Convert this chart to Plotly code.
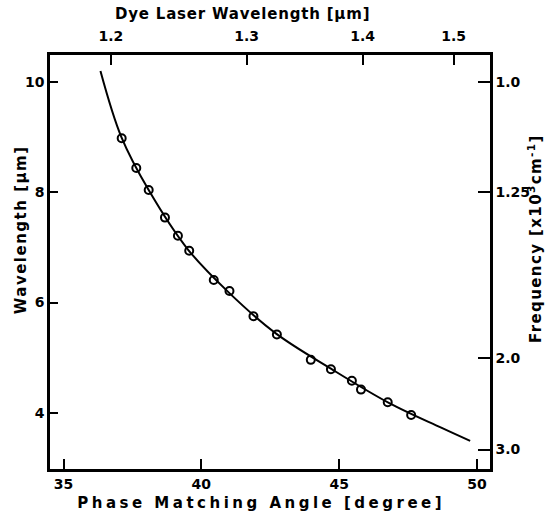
import plotly.graph_objects as go

# Measured points: phase matching angle (deg) vs generated wavelength (um)
angle_deg = [37.11, 37.64, 38.09, 38.68, 39.15, 39.56, 40.45, 41.02, 41.89,
             42.74, 43.97, 44.70, 45.46, 45.79, 46.76, 47.61]
wavelength_um = [8.98, 8.44, 8.04, 7.54, 7.21, 6.94, 6.41, 6.21, 5.75,
                 5.42, 4.96, 4.79, 4.58, 4.42, 4.19, 3.96]

# Calculated tuning curve
curve_angle = [36.34, 37.10, 38.10, 39.50, 41.00, 42.70, 44.70, 46.80, 48.70, 49.75]
curve_wavelength = [10.20, 9.00, 8.03, 6.97, 6.18, 5.44, 4.80, 4.18, 3.73, 3.49]

# Bottom axis ticks
angle_ticks = [35, 40, 45, 50]
# Left axis ticks
wl_ticks = [4, 6, 8, 10]
# Top axis: dye laser wavelength labels and the angle where each occurs
dye_labels = ["1.2", "1.3", "1.4", "1.5"]
dye_angle = [36.72, 41.64, 45.85, 49.15]
# Right axis: frequency (x10^3 cm^-1)
freq_values = [1.0, 1.25, 2.0, 3.0]
freq_labels = ["1.0", "1.25", "2.0", "3.0"]
freq_pos_um = [10.0 / f for f in freq_values]

X_RANGE = [34.51, 50.47]
Y_RANGE = [2.98, 10.49]

FONT = "DejaVu Sans"
tickfont = dict(family=FONT, size=14, color="black", weight="bold")
titlefont = dict(family=FONT, size=15, color="black", weight="bold")

fig = go.Figure()
fig.add_trace(go.Scatter(
    x=curve_angle, y=curve_wavelength, mode="lines",
    line=dict(color="black", width=2, shape="spline", smoothing=1.0),
    showlegend=False, hoverinfo="skip"))
fig.add_trace(go.Scatter(
    x=angle_deg, y=wavelength_um, mode="markers",
    marker=dict(symbol="circle-open", size=8, color="black", line=dict(width=2)),
    showlegend=False))
# invisible trace to anchor secondary axes
fig.add_trace(go.Scatter(x=[X_RANGE[0]], y=[Y_RANGE[0]], xaxis="x2", yaxis="y2",
                         mode="markers", marker=dict(opacity=0), showlegend=False,
                         hoverinfo="skip"))

common = dict(showgrid=False, zeroline=False, showline=True, linecolor="black",
              linewidth=2.5, ticks="inside", tickcolor="black", tickwidth=1.5,
              tickfont=tickfont)

W, H = 547, 516
l, r, t, b = 50, 57, 55, 47
pw, ph = W - l - r, H - t - b


def px2paper(px, py):
    return (px - l) / pw, (H - b - py) / ph


titles = [
    ("Dye Laser Wavelength [μm]", 242, 14, 0),
    ("Phase Matching Angle [degree]", 261, 503, 0),
    ("Wavelength [μm]", 21, 230, -90),
    ("Frequency [x10<sup>3</sup>cm<sup>-1</sup>]", 535, 239, -90),
]
annotations = []
for text, px, py, ang in titles:
    ax, ay = px2paper(px, py)
    annotations.append(dict(text=text, x=ax, y=ay, xref="paper", yref="paper",
                            xanchor="center", yanchor="middle", showarrow=False,
                            textangle=ang, font=titlefont))

fig.update_layout(
    width=W, height=H,
    margin=dict(l=l, r=r, t=t, b=b),
    paper_bgcolor="white", plot_bgcolor="white",
    xaxis=dict(range=X_RANGE, tickvals=angle_ticks, ticklen=10, **common),
    xaxis2=dict(range=X_RANGE, overlaying="x", side="top", tickvals=dye_angle,
                ticktext=dye_labels, ticklen=10, ticklabelstandoff=6, **common),
    yaxis=dict(range=Y_RANGE, tickvals=wl_ticks, ticklen=8, **common),
    yaxis2=dict(range=Y_RANGE, overlaying="y", side="right", tickvals=freq_pos_um,
                ticktext=freq_labels, ticklen=12, **common),
    annotations=annotations,
)

post = """
document.body.style.margin = '0';
document.body.style.padding = '0';
var sp = ['0.8px', '3.5px', '1.5px', '1.4px'];
document.querySelectorAll('.annotation-text').forEach(function(e, i){
  e.style.letterSpacing = sp[i] || '1px';
});
"""

fig.write_html("out.html", post_script=post, config={"displayModeBar": False})
